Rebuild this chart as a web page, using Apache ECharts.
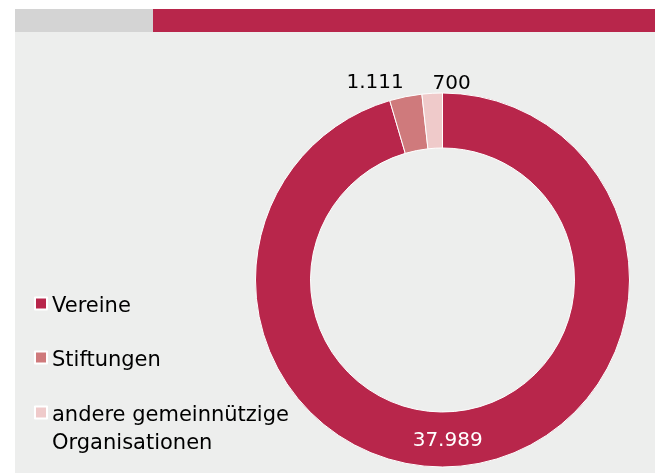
<!DOCTYPE html>
<html>
<head>
<meta charset="utf-8">
<script src="https://cdn.jsdelivr.net/npm/echarts@6/dist/echarts.min.js"></script>
<style>
  html, body { margin: 0; padding: 0; background: #fff; }
  #chart { width: 655px; height: 473px; }
</style>
</head>
<body>
<div id="chart"></div>
<script>
// Daten
const categories = ['Vereine', 'Stiftungen', 'andere gemeinnützige\nOrganisationen'];
const values = [37989, 1111, 700];
const colors = ['#b8264b', '#cf7a7c', '#efcaca'];

const FONT = 'DejaVu Sans';

// deutsche Tausendertrennung
function fmt(v) {
  return String(v).replace(/\B(?=(\d{3})+(?!\d))/g, '.');
}

const chart = echarts.init(document.getElementById('chart'));

const textBase = { fontFamily: FONT, fontSize: 21, color: '#000', lineHeight: 28 };

const legendBase = {
  orient: 'vertical',
  left: 34,
  padding: 0,
  icon: 'rect',
  itemWidth: 12,
  itemHeight: 12,
  selectedMode: false,
  textStyle: {
    fontFamily: FONT,
    fontSize: 21,
    color: '#000',
    rich: {
      a: textBase,
      s1: { fontSize: 1, lineHeight: 6 },   // Leerzeile: Text etwas unter Symbolmitte
      s2: { fontSize: 1, lineHeight: 34 },  // Leerzeile: erste Zeile neben dem Symbol
    },
  },
  formatter: function (name) {
    const lines = name.split('\n');
    const spacer = lines.length === 1 ? '{s1| }' : '{s2| }';
    return [spacer].concat(lines.map((l) => '{a|' + l + '}')).join('\n');
  },
};

chart.setOption({
  animation: false,
  color: colors,
  graphic: [
    // Hintergrundfläche
    { type: 'rect', z: -10, shape: { x: 15, y: 32, width: 640, height: 441 }, style: { fill: '#edeeed' } },
    { type: 'rect', z: -10, shape: { x: 15, y: 9, width: 138, height: 23 }, style: { fill: '#d4d4d4' } },
    { type: 'rect', z: -10, shape: { x: 153, y: 9, width: 502, height: 23 }, style: { fill: '#b8264b' } },
  ],
  legend: [
    Object.assign({}, legendBase, { top: 289, data: [categories[0]] }),
    Object.assign({}, legendBase, { top: 343, data: [categories[1]] }),
    Object.assign({}, legendBase, { top: 384, data: [categories[2]] }),
  ],
  series: [
    {
      type: 'pie',
      center: [442.5, 280],
      radius: [132, 187],
      startAngle: 90,
      clockwise: true,
      avoidLabelOverlap: false,
      itemStyle: { borderColor: '#fff', borderWidth: 1 },
      emphasis: { disabled: true },
      label: {
        show: true,
        position: 'outside',
        fontFamily: FONT,
        fontSize: 20,
        color: '#000',
        formatter: (p) => fmt(p.value),
      },
      labelLine: { show: false, length: 10, length2: 0 },
      labelLayout: function (p) {
        if (p.dataIndex === 0) return { dx: -18 };
        if (p.dataIndex === 1) return { dx: 5, dy: -4 };
        if (p.dataIndex === 2) return { align: 'left', dx: 6 };
      },
      data: categories.map((name, i) => ({
        name: name,
        value: values[i],
        label: i === 0 ? { position: 'inside', color: '#fff' } : undefined,
      })),
    },
  ],
});
</script>
</body>
</html>
